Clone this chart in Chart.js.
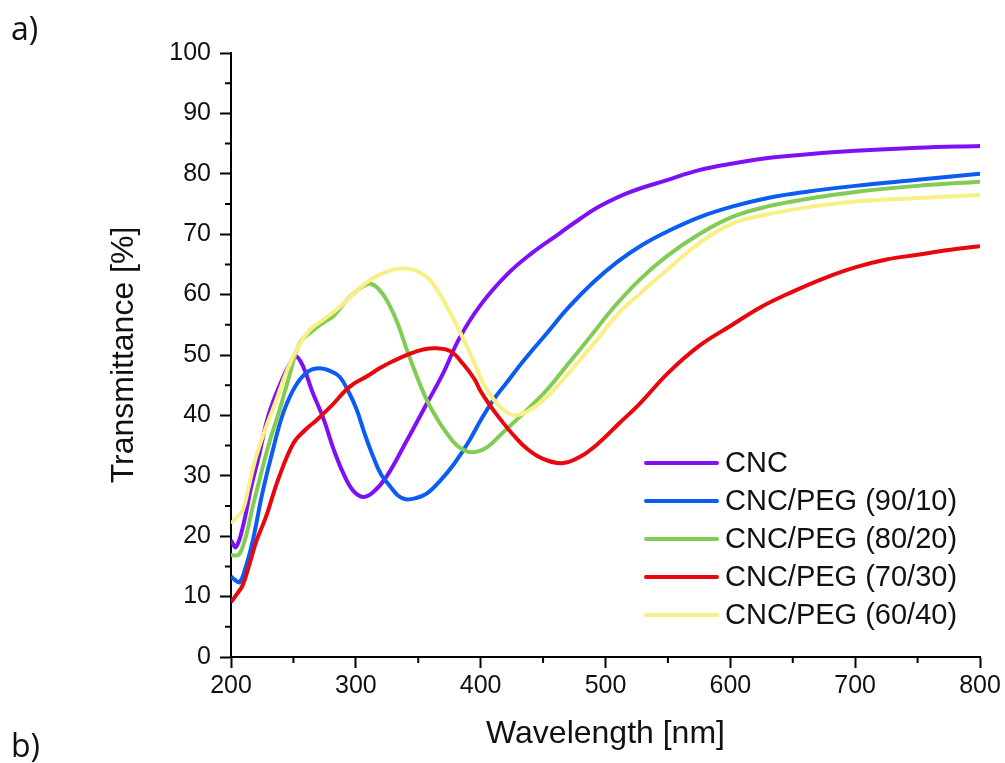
<!DOCTYPE html>
<html><head><meta charset="utf-8">
<script src="https://cdn.jsdelivr.net/npm/chart.js@4.4.0/dist/chart.umd.min.js"></script>
<style>html,body{margin:0;padding:0;background:#fff}#wrap{width:1005px;height:763px;position:relative}</style>
</head><body><div id="wrap"><canvas id="c" width="1005" height="763"></canvas></div>
<script>
const seriesLabels = ["CNC", "CNC/PEG (90/10)", "CNC/PEG (80/20)", "CNC/PEG (70/30)", "CNC/PEG (60/40)"];
const seriesColors = ["#7F10F5", "#0B5CF2", "#80CC55", "#E8070D", "#F8EF86"];

const cncWl = [200,204,210,216,222,230,240,247,252,258,265,274,282,290,298,306,314,325,340,357,370,383,400,421,440,463,480,496,520,550,575,602,630,660,700,750,800];
const cncT  = [19.3,18.2,22,28,33,40,45.5,48.5,49.8,48,44,39.5,34.5,30.4,27.5,26.5,27.3,30,35.5,42,47,52.8,58.3,63.3,66.7,70.1,72.6,74.7,77,79,80.6,81.7,82.6,83.2,83.8,84.3,84.6];

const p9010Wl = [200,203,207,212,217.5,225,233.6,242,252,262,271,280,287,294,300.8,307,314,320,327.7,334,340,348,357,368,378.8,390,400,410,420,435,453,470,490,510,530,550,575,602,630,660,700,750,800];
const p9010T  = [13.3,12.8,12.4,15,19.3,27,34.3,40.5,45,47.3,47.8,47.3,46.4,44,40.9,37,33.1,30.3,28.2,26.7,26.1,26.3,27.1,29.3,32,35.5,39.2,42.5,45.2,49.2,53.6,57.8,62,65.5,68.3,70.5,72.8,74.6,76,77,78,79,80];

const p8020Wl = [200,204,207,212,217,222.8,230,238.9,246,255,265.9,275,281.9,292.7,300,307,312,318,325,333,341,349,357,365,373,381,389.5,397,405.6,416,430,440,453,470,490,505,527,550,575,602,630,660,700,750,800];
const p8020T  = [16.9,16.8,17.1,20,24.5,29.3,35,40.9,46,51.9,54.1,55.5,56.4,59.1,60.5,61.5,61.8,61,59,55.5,50.8,46.4,42.5,39.5,37,35,34,34,34.8,36.8,39.5,41.5,44.2,48.5,53.6,57.5,62.4,66.5,70,72.9,74.6,75.8,77,78,78.7];

const p7030Wl = [200,205,209.4,215,220,228,238,250,260,268.5,280,295.4,310,319,330,342,354,365,376,386,395,400,408,416,426,437,450,466,480,495,510,527.7,550,575,600,625,650,675,700,725,750,775,800];
const p7030T  = [9.1,10.5,11.9,15.5,19,23.2,29.5,35.4,37.7,39.2,41.5,44.8,46.6,47.8,49,50.1,50.9,51.1,50.6,48.5,46,44,41.5,39.3,36.8,34.5,32.8,32.1,33.2,35.5,38.5,42,47,51.5,54.8,58,60.5,62.7,64.5,65.8,66.6,67.4,68];

const p6040Wl = [200,204,209.4,214,220,228,236.3,244,252.4,263,275,287.4,300,312,325,335,345,352,359.5,366,373,381,389,396,402,409,415.5,421,426,431,437,450,466,480,493,510,527.7,550,575,602,630,660,700,750,800];
const p6040T  = [22.1,23,24.3,28,33.1,38,42.5,47,50.8,54.1,56,58,60.5,62.5,63.8,64.3,64.2,63.6,62.4,60.5,58,54.8,51.4,48.2,45.3,43,41.4,40.5,40,40.1,40.6,42.5,45.9,49.3,52.5,56.8,60.2,64.2,68.5,71.8,73.3,74.4,75.4,76,76.5];

const xTickValues = [200,300,400,500,600,700,800];
const xMinorTicks = [250,350,450,550,650,750];
const yMinorTicks = [5,15,25,35,45,55,65,75,85,95];

const seriesWl = [cncWl, p9010Wl, p8020Wl, p7030Wl, p6040Wl];
const seriesT = [cncT, p9010T, p8020T, p7030T, p6040T];

const datasets = seriesLabels.map((lab, i) => ({
  label: lab,
  data: seriesWl[i].map((w, k) => ({x: w, y: seriesT[i][k]})),
  borderColor: seriesColors[i],
  backgroundColor: seriesColors[i],
  borderWidth: 4,
  pointRadius: 0,
  tension: 0.4,
  order: seriesLabels.length - i,
  fill: false
}));

const FONT = "'Liberation Sans', Arial, sans-serif";

const decorPlugin = {
  id: 'decor',
  afterDraw(chart) {
    const ctx = chart.ctx, xs = chart.scales.x, ys = chart.scales.y;
    ctx.save();
    ctx.strokeStyle = '#000';
    ctx.lineWidth = 2;
    ctx.beginPath();
    for (const v of xMinorTicks) {
      const px = xs.getPixelForValue(v);
      ctx.moveTo(px, ys.bottom); ctx.lineTo(px, ys.bottom + 6);
    }
    for (const v of yMinorTicks) {
      const py = ys.getPixelForValue(v);
      ctx.moveTo(xs.left - 6, py); ctx.lineTo(xs.left, py);
    }
    ctx.stroke();

    // legend
    const rows = [463, 501, 539, 577, 615];
    ctx.font = "29px " + FONT;
    ctx.textBaseline = 'middle';
    ctx.textAlign = 'left';
    chart.data.datasets.forEach((ds, i) => {
      ctx.strokeStyle = ds.borderColor;
      ctx.lineWidth = 4;
      ctx.lineCap = 'round';
      ctx.beginPath();
      ctx.moveTo(646, rows[i]); ctx.lineTo(717, rows[i]);
      ctx.stroke();
      ctx.fillStyle = '#111';
      ctx.fillText(ds.label, 725, rows[i] + 1);
    });

    // panel labels
    ctx.font = "32px 'Open Sans', Lato, sans-serif";
    ctx.fillStyle = '#111';
    ctx.textBaseline = 'alphabetic';
    ctx.fillText('a)', 11, 40);
    ctx.fillText('b)', 11, 757);
    ctx.restore();
  }
};

new Chart(document.getElementById('c'), {
  type: 'line',
  data: { datasets },
  plugins: [decorPlugin],
  options: {
    responsive: false,
    animation: false,
    devicePixelRatio: 1,
    layout: { padding: { top: 53, right: 25, left: 0, bottom: 0 } },
    plugins: { legend: { display: false }, tooltip: { enabled: false } },
    scales: {
      x: {
        type: 'linear', min: 200, max: 800,
        afterFit: s => { s.height = 106; },
        afterBuildTicks: s => { s.ticks = xTickValues.map(v => ({value: v})); },
        ticks: { color: '#111', font: { size: 25, family: FONT }, padding: 3, maxRotation: 0 },
        grid: { drawOnChartArea: false, drawTicks: true, tickLength: 11, tickWidth: 2, tickColor: '#000' },
        border: { display: true, color: '#000', width: 2 },
        title: { display: true, text: 'Wavelength [nm]', color: '#111', font: { size: 32, family: FONT }, padding: { top: 0, bottom: 10 } }
      },
      y: {
        type: 'linear', min: 0, max: 100,
        afterFit: s => { s.width = 231; },
        ticks: { stepSize: 10, color: '#111', font: { size: 25, family: FONT }, padding: 9 },
        grid: { drawOnChartArea: false, drawTicks: true, tickLength: 11, tickWidth: 2, tickColor: '#000' },
        border: { display: true, color: '#000', width: 2 },
        title: { display: true, text: 'Transmittance [%]', color: '#111', font: { size: 32, family: FONT }, padding: { top: 105, bottom: 0 } }
      }
    }
  }
});
</script>
</body></html>
